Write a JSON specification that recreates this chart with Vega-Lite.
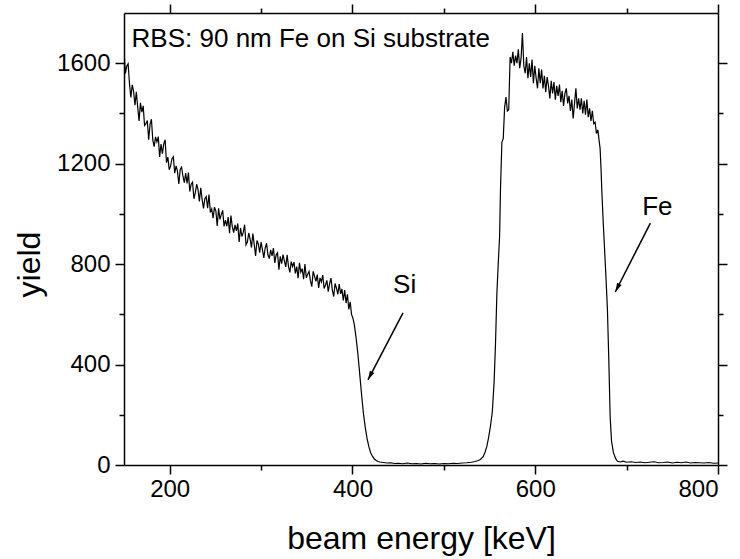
{
  "$schema": "https://vega.github.io/schema/vega-lite/v6.json",
  "width": 594,
  "height": 452,
  "autosize": "none",
  "padding": {"left": 124, "top": 13, "right": 22, "bottom": 94},
  "background": "white",
  "config": {
    "font": "Liberation Sans",
    "view": {"stroke": null},
    "axis": {
      "grid": false,
      "domainColor": "black",
      "domainWidth": 1.5,
      "tickColor": "black",
      "tickWidth": 1.5,
      "labelColor": "black",
      "titleColor": "black",
      "labelFont": "Liberation Sans",
      "titleFont": "Liberation Sans",
      "labelFontSize": 24,
      "titleFontSize": 32,
      "titleFontWeight": "normal"
    }
  },
  "datasets": {
    "arrows": [
      {"label": "Si", "x1": 455.3, "y1": 605.6, "x2": 417.0, "y2": 339.2},
      {"label": "Fe", "x1": 726.0, "y1": 963.4, "x2": 687.6, "y2": 689}
    ]
  },
  "resolve": {"axis": {"x": "independent", "y": "independent"}},
  "layer": [
    {
      "data": {"values": [
        {"e":150,"c":1650},{"e":151.5,"c":1559},{"e":153,"c":1588},{"e":154.5,"c":1598},{"e":156,"c":1519},{"e":157.5,"c":1464},{"e":159,"c":1514},{"e":160.5,"c":1488},{"e":162,"c":1433},{"e":163.5,"c":1486},{"e":165,"c":1425},{"e":166.5,"c":1370},{"e":168,"c":1442},{"e":169.5,"c":1405},{"e":171,"c":1430},{"e":172.5,"c":1352},{"e":174,"c":1359},{"e":175.5,"c":1372},{"e":177,"c":1295},{"e":178.5,"c":1357},{"e":180,"c":1377},{"e":181.5,"c":1295},{"e":183,"c":1268},{"e":184.5,"c":1307},{"e":186,"c":1287},{"e":187.5,"c":1308},{"e":189,"c":1227},{"e":190.5,"c":1278},{"e":192,"c":1240},{"e":193.5,"c":1279},{"e":195,"c":1295},{"e":196.5,"c":1204},{"e":198,"c":1226},{"e":199.5,"c":1176},{"e":201,"c":1191},{"e":202.5,"c":1220},{"e":204,"c":1228},{"e":205.5,"c":1162},{"e":207,"c":1191},{"e":208.5,"c":1170},{"e":210,"c":1119},{"e":211.5,"c":1177},{"e":213,"c":1186},{"e":214.5,"c":1150},{"e":216,"c":1124},{"e":217.5,"c":1162},{"e":219,"c":1121},{"e":220.5,"c":1165},{"e":222,"c":1089},{"e":223.5,"c":1118},{"e":225,"c":1126},{"e":226.5,"c":1060},{"e":228,"c":1084},{"e":229.5,"c":1118},{"e":231,"c":1097},{"e":232.5,"c":1050},{"e":234,"c":1104},{"e":235.5,"c":1058},{"e":237,"c":1022},{"e":238.5,"c":1061},{"e":240,"c":1069},{"e":241.5,"c":1023},{"e":243,"c":1077},{"e":244.5,"c":1006},{"e":246,"c":1020},{"e":247.5,"c":983},{"e":249,"c":1027},{"e":250.5,"c":1012},{"e":252,"c":952},{"e":253.5,"c":1022},{"e":255,"c":978},{"e":256.5,"c":998},{"e":258,"c":1014},{"e":259.5,"c":950},{"e":261,"c":975},{"e":262.5,"c":951},{"e":264,"c":987},{"e":265.5,"c":923},{"e":267,"c":993},{"e":268.5,"c":949},{"e":270,"c":925},{"e":271.5,"c":956},{"e":273,"c":932},{"e":274.5,"c":962},{"e":276,"c":888},{"e":277.5,"c":944},{"e":279,"c":910},{"e":280.5,"c":926},{"e":282,"c":957},{"e":283.5,"c":877},{"e":285,"c":888},{"e":286.5,"c":924},{"e":288,"c":900},{"e":289.5,"c":866},{"e":291,"c":922},{"e":292.5,"c":878},{"e":294,"c":833},{"e":295.5,"c":894},{"e":297,"c":880},{"e":298.5,"c":846},{"e":300,"c":888},{"e":301.5,"c":858},{"e":303,"c":825},{"e":304.5,"c":865},{"e":306,"c":883},{"e":307.5,"c":837},{"e":309,"c":822},{"e":310.5,"c":857},{"e":312,"c":833},{"e":313.5,"c":864},{"e":315,"c":805},{"e":316.5,"c":837},{"e":318,"c":845},{"e":319.5,"c":778},{"e":321,"c":831},{"e":322.5,"c":802},{"e":324,"c":838},{"e":325.5,"c":813},{"e":327,"c":789},{"e":328.5,"c":837},{"e":330,"c":791},{"e":331.5,"c":767},{"e":333,"c":810},{"e":334.5,"c":790},{"e":336,"c":808},{"e":337.5,"c":763},{"e":339,"c":790},{"e":340.5,"c":744},{"e":342,"c":805},{"e":343.5,"c":768},{"e":345,"c":782},{"e":346.5,"c":740},{"e":348,"c":800},{"e":349.5,"c":746},{"e":351,"c":760},{"e":352.5,"c":771},{"e":354,"c":734},{"e":355.5,"c":710},{"e":357,"c":771},{"e":358.5,"c":752},{"e":360,"c":731},{"e":361.5,"c":758},{"e":363,"c":705},{"e":364.5,"c":745},{"e":366,"c":729},{"e":367.5,"c":756},{"e":369,"c":703},{"e":370.5,"c":717},{"e":372,"c":735},{"e":373.5,"c":690},{"e":375,"c":722},{"e":376.5,"c":744},{"e":378,"c":695},{"e":379.5,"c":671},{"e":381,"c":723},{"e":382.5,"c":704},{"e":384,"c":680},{"e":385.5,"c":720},{"e":387,"c":682},{"e":388.5,"c":701},{"e":390,"c":655},{"e":391.5,"c":697},{"e":393,"c":645},{"e":394.5,"c":680},{"e":396,"c":620},{"e":397.5,"c":650},{"e":399,"c":600},{"e":400.5,"c":585},{"e":402,"c":560},{"e":404,"c":505},{"e":406,"c":440},{"e":408,"c":360},{"e":410,"c":280},{"e":412,"c":205},{"e":414,"c":150},{"e":416,"c":105},{"e":418,"c":72},{"e":420,"c":48},{"e":422,"c":34},{"e":424,"c":24},{"e":426,"c":18},{"e":428,"c":14},{"e":430,"c":12},{"e":434,"c":10},{"e":438,"c":8},{"e":442,"c":9},{"e":446,"c":6},{"e":450,"c":7},{"e":455,"c":5},{"e":460,"c":8},{"e":465,"c":5},{"e":470,"c":6},{"e":475,"c":4},{"e":480,"c":7},{"e":485,"c":5},{"e":490,"c":6},{"e":495,"c":4},{"e":500,"c":6},{"e":505,"c":5},{"e":510,"c":7},{"e":515,"c":6},{"e":520,"c":8},{"e":525,"c":9},{"e":530,"c":11},{"e":534,"c":14},{"e":537,"c":17},{"e":540,"c":22},{"e":543,"c":33},{"e":545,"c":50},{"e":547,"c":73},{"e":549,"c":110},{"e":551,"c":155},{"e":553,"c":210},{"e":555,"c":330},{"e":556.5,"c":480},{"e":558,"c":680},{"e":559.5,"c":800},{"e":561,"c":910},{"e":562,"c":1100},{"e":563.5,"c":1285},{"e":565,"c":1300},{"e":566.5,"c":1425},{"e":568,"c":1465},{"e":569.5,"c":1410},{"e":571,"c":1415},{"e":572.5,"c":1625},{"e":574,"c":1600},{"e":575.5,"c":1645},{"e":577,"c":1590},{"e":578.5,"c":1630},{"e":580,"c":1600},{"e":581.5,"c":1655},{"e":583,"c":1580},{"e":584.5,"c":1620},{"e":586,"c":1720},{"e":587.5,"c":1590},{"e":589,"c":1560},{"e":590.5,"c":1625},{"e":592,"c":1540},{"e":593.5,"c":1600},{"e":595,"c":1545},{"e":596.5,"c":1615},{"e":598,"c":1520},{"e":599.5,"c":1590},{"e":601,"c":1540},{"e":602.5,"c":1500},{"e":604,"c":1580},{"e":605.5,"c":1520},{"e":607,"c":1575},{"e":608.5,"c":1500},{"e":610,"c":1550},{"e":611.5,"c":1485},{"e":613,"c":1545},{"e":614.5,"c":1510},{"e":616,"c":1460},{"e":617.5,"c":1530},{"e":619,"c":1480},{"e":620.5,"c":1525},{"e":622,"c":1455},{"e":623.5,"c":1510},{"e":625,"c":1470},{"e":626.5,"c":1515},{"e":628,"c":1445},{"e":629.5,"c":1490},{"e":631,"c":1430},{"e":632.5,"c":1480},{"e":634,"c":1500},{"e":635.5,"c":1440},{"e":637,"c":1470},{"e":638.5,"c":1410},{"e":640,"c":1455},{"e":641.5,"c":1380},{"e":643,"c":1440},{"e":644.5,"c":1500},{"e":646,"c":1420},{"e":647.5,"c":1460},{"e":649,"c":1415},{"e":650.5,"c":1460},{"e":652,"c":1400},{"e":653.5,"c":1450},{"e":655,"c":1395},{"e":656.5,"c":1455},{"e":658,"c":1385},{"e":659.5,"c":1420},{"e":661,"c":1370},{"e":662.5,"c":1410},{"e":664,"c":1360},{"e":665.5,"c":1365},{"e":667,"c":1320},{"e":668.5,"c":1335},{"e":670,"c":1290},{"e":671,"c":1260},{"e":672,"c":1180},{"e":673,"c":1080},{"e":674.5,"c":960},{"e":676,"c":850},{"e":677.5,"c":740},{"e":679,"c":620},{"e":680.5,"c":420},{"e":682,"c":190},{"e":683.5,"c":95},{"e":685.5,"c":50},{"e":688,"c":25},{"e":690,"c":15},{"e":693,"c":12},{"e":696,"c":15},{"e":700,"c":11},{"e":705,"c":13},{"e":710,"c":10},{"e":715,"c":12},{"e":720,"c":9},{"e":725,"c":11},{"e":730,"c":13},{"e":735,"c":9},{"e":740,"c":10},{"e":745,"c":12},{"e":750,"c":8},{"e":755,"c":11},{"e":760,"c":9},{"e":765,"c":12},{"e":770,"c":8},{"e":775,"c":10},{"e":780,"c":9},{"e":785,"c":8},{"e":790,"c":10},{"e":795,"c":7},{"e":800,"c":8}
      ]},
      "mark": {"type": "line", "color": "black", "strokeWidth": 1.2, "clip": true},
      "encoding": {
        "x": {"field": "e", "type": "quantitative",
          "scale": {"domain": [150, 800], "nice": false, "zero": false},
          "axis": {"orient": "bottom", "values": [200, 400, 600, 800], "format": "d", "tickSize": 9, "labelPadding": 3,
            "title": "beam energy [keV]", "titleY": 83, "titleBaseline": "alphabetic"}},
        "y": {"field": "c", "type": "quantitative",
          "scale": {"domain": [0, 1800], "nice": false, "zero": true},
          "axis": {"orient": "left", "values": [0, 400, 800, 1200, 1600], "format": "d", "tickSize": 9, "labelPadding": 5,
            "title": "yield", "titleAngle": -90, "titleX": -78, "titleY": 251, "titleBaseline": "bottom", "titleAlign": "center"}}
      }
    },
    {
      "data": {"name": "arrows"},
      "mark": {"type": "rule", "color": "black", "strokeWidth": 1.5},
      "encoding": {
        "x": {"field": "x1", "type": "quantitative",
          "axis": {"orient": "bottom", "values": [300, 500, 700], "tickSize": 5, "labels": false, "domain": false, "title": null}},
        "x2": {"field": "x2"},
        "y": {"field": "y1", "type": "quantitative",
          "axis": {"orient": "left", "values": [200, 600, 1000, 1400], "tickSize": 5, "labels": false, "domain": false, "title": null}},
        "y2": {"field": "y2"}
      }
    },
    {
      "data": {"name": "arrows"},
      "mark": {"type": "point", "shape": "M0,0L-0.5,1.8L0.5,1.8Z", "size": 100, "angle": 207, "filled": true, "color": "black", "opacity": 1},
      "encoding": {
        "x": {"field": "x2", "type": "quantitative",
          "axis": {"orient": "top", "values": [200, 400, 600, 800], "tickSize": 9, "labels": false, "title": null}},
        "y": {"field": "y2", "type": "quantitative",
          "axis": {"orient": "right", "values": [0, 400, 800, 1200, 1600], "tickSize": 9, "labels": false, "title": null}}
      }
    },
    {
      "data": {"values": [
        {"x": 158.3, "y": 1663, "t": "RBS: 90 nm Fe on Si substrate"},
        {"x": 444.4, "y": 685, "t": "Si"},
        {"x": 717.1, "y": 995, "t": "Fe"}
      ]},
      "mark": {"type": "text", "align": "left", "baseline": "alphabetic", "fontSize": 26, "color": "black", "font": "Liberation Sans"},
      "encoding": {
        "x": {"field": "x", "type": "quantitative",
          "axis": {"orient": "top", "values": [300, 500, 700], "tickSize": 5, "labels": false, "domain": false, "title": null}},
        "y": {"field": "y", "type": "quantitative",
          "axis": {"orient": "right", "values": [200, 600, 1000, 1400], "tickSize": 5, "labels": false, "domain": false, "title": null}},
        "text": {"field": "t"}
      }
    }
  ]
}
